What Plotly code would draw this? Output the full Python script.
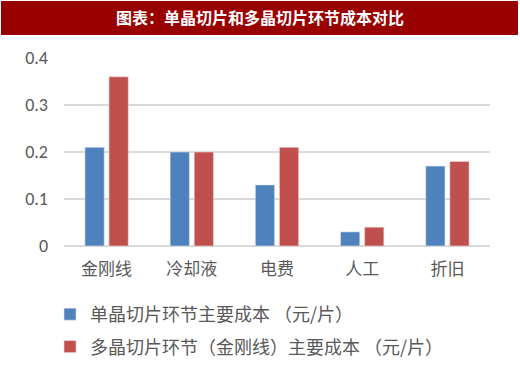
import plotly.graph_objects as go

categories = ["金刚线", "冷却液", "电费", "人工", "折旧"]
mono_values = [0.21, 0.20, 0.13, 0.03, 0.17]
multi_values = [0.36, 0.20, 0.21, 0.04, 0.18]
series_names = ["单晶切片环节主要成本 （元/片）", "多晶切片环节（金刚线）主要成本 （元/片）"]
y_ticks = [0, 0.1, 0.2, 0.3, 0.4]
y_tick_labels = ["0", "0.1", "0.2", "0.3", "0.4"]
title_text = "图表：单晶切片和多晶切片环节成本对比"

W, H = 520, 365
L, R, T, B = 64, 30, 58, 119
pw = W - L - R
ph = H - T - B

def px_x(x):
    return (x - L) / pw

def px_y(y):
    return (H - B - y) / ph

fig = go.Figure()
fig.add_trace(go.Bar(x=categories, y=mono_values, name=series_names[0],
                     marker=dict(color="#4f81bd", line=dict(color="#dbe4f0", width=0.6)),
                     legendgroup="a"))
fig.add_trace(go.Bar(x=categories, y=multi_values, name=series_names[1],
                     marker=dict(color="#c0504d", line=dict(color="#f0dada", width=0.6)),
                     legendgroup="b"))

fig.add_shape(type="rect", xref="paper", yref="paper",
              x0=px_x(1), x1=px_x(518), y0=px_y(35), y1=px_y(1),
              fillcolor="#990000", line=dict(width=0), layer="below")

fig.update_layout(
    width=W, height=H,
    margin=dict(l=L, r=R, t=T, b=B, autoexpand=False),
    paper_bgcolor="white", plot_bgcolor="white",
    font=dict(family="Noto Sans CJK SC", color="#595959", size=17),
    title=dict(text="<b>" + title_text + "</b>", x=0.5, xanchor="center",
               y=1 - 18 / H, yanchor="middle", yref="container",
               font=dict(family="Noto Sans CJK SC", size=16, color="white")),
    barmode="group", bargap=0.435, bargroupgap=0.2,
    showlegend=True,
    legend=dict(x=px_x(50), y=px_y(296), xanchor="left", yanchor="top",
                orientation="v", traceorder="grouped", tracegroupgap=6,
                font=dict(size=18, color="#595959"), itemwidth=30,
                bgcolor="rgba(0,0,0,0)"),
    xaxis=dict(showline=False, showgrid=False, ticks="", ticklabelstandoff=11,
               tickfont=dict(size=17, color="#595959")),
    yaxis=dict(range=[0, 0.4], tickvals=y_ticks, ticktext=y_tick_labels,
               showgrid=True, gridcolor="#d9d9d9", gridwidth=1.5,
               zeroline=True, zerolinecolor="#d9d9d9", zerolinewidth=1.5,
               showline=False, ticks="", ticklabelstandoff=15,
               tickfont=dict(family="Carlito, Liberation Sans", size=18, color="#595959")),
)

fig.write_html("out.html", config={"displayModeBar": False},
               post_script="document.body.style.margin='0';document.body.style.overflow='hidden';")
